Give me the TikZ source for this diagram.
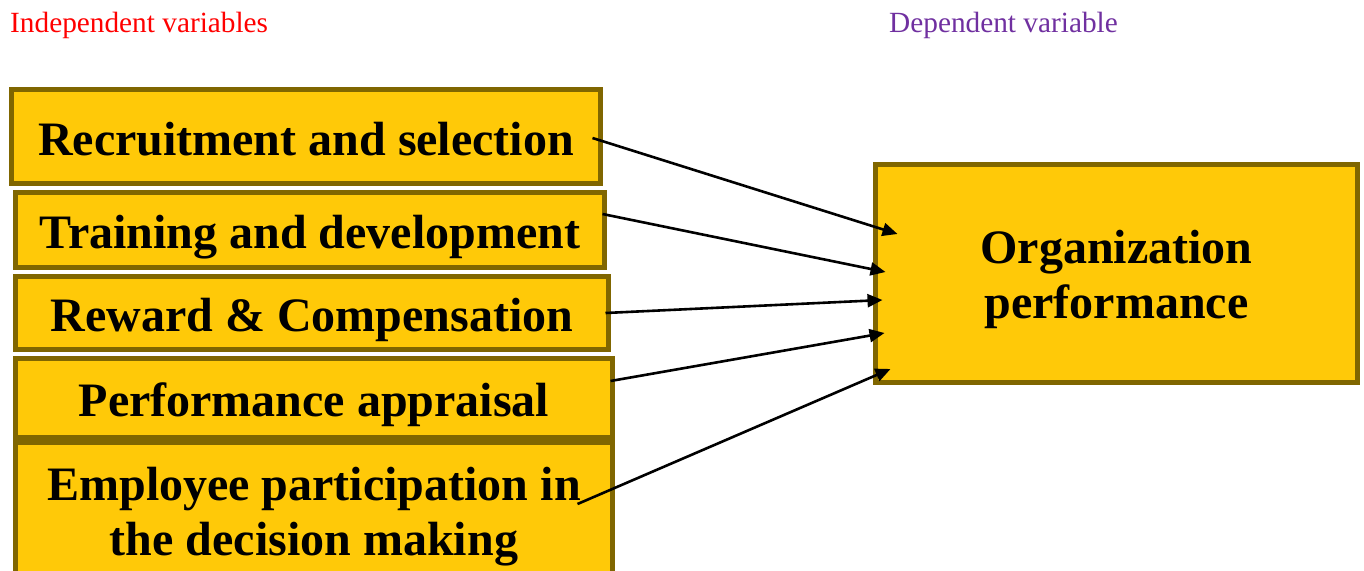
\documentclass[tikz,border=0pt]{standalone}
\usepackage{fontspec}
\setmainfont{Liberation Serif}
\usepackage{xcolor}
\usetikzlibrary{arrows.meta}
\usetikzlibrary{calc}
\definecolor{boxfill}{RGB}{255,201,8}
\definecolor{boxline}{RGB}{128,102,0}
\definecolor{indepred}{RGB}{255,0,0}
\definecolor{deppurple}{RGB}{112,48,160}
\tikzset{varbox/.style={draw=boxline, line width=5pt, fill=boxfill, align=center, inner sep=0pt, font=\bfseries\fontsize{48}{55}\selectfont}}
\tikzset{oneline/.style={text height=37pt, text depth=0pt}}
\tikzset{headline/.style={anchor=base west, inner sep=0pt, font=\fontsize{29.3}{34}\selectfont}}
\tikzset{link/.style={-{Triangle[length=15pt,width=13pt]}, line width=2.6pt}}

\begin{document}
\begin{tikzpicture}[x=1pt, y=-1pt]
\useasboundingbox (0,0) rectangle (1364,570);
\clip (0,0) rectangle (1364,570);
\node[headline, text=indepred] (indep) at (10,32) {Independent variables};
\node[headline, text=deppurple] (dep) at (889,32) {Dependent variable};
\node[varbox, oneline, minimum width=589pt, minimum height=94pt] (rec) at (306,136.5) {Recruitment and selection};
\node[varbox, oneline, minimum width=589pt, minimum height=75pt] (trn) at (310,230) {Training and development};
\node[varbox, oneline, minimum width=593pt, minimum height=73pt] (rew) at (312,313) {Reward \& Compensation};
\node[varbox, oneline, minimum width=597pt, minimum height=79pt] (app) at (314,398) {Performance appraisal};
\node[varbox, minimum width=597pt, minimum height=148pt] (emp) at (314,516.5) {Employee participation in\\the decision making};
\node[varbox, minimum width=482pt, minimum height=218pt] (org) at (1116.5,273.5) {\rule{0pt}{46pt}Organization\\performance};
\draw[link] ($(rec.east)+(-10.5,1.5)$) -- ($(org.west)+(24.5,-39.5)$);
\draw[link] ($(trn.east)+(-4.5,-16)$) -- ($(org.west)+(12.5,-1.5)$);
\draw[link] ($(rew.east)+(-5.5,0)$) -- ($(org.west)+(9.5,26.5)$);
\draw[link] ($(app.east)+(-4.5,-17)$) -- ($(org.west)+(11.5,59.5)$);
\draw[link] ($(emp.east)+(-37.5,-12.5)$) -- ($(org.west)+(17.5,95.5)$);
\end{tikzpicture}
\end{document}
